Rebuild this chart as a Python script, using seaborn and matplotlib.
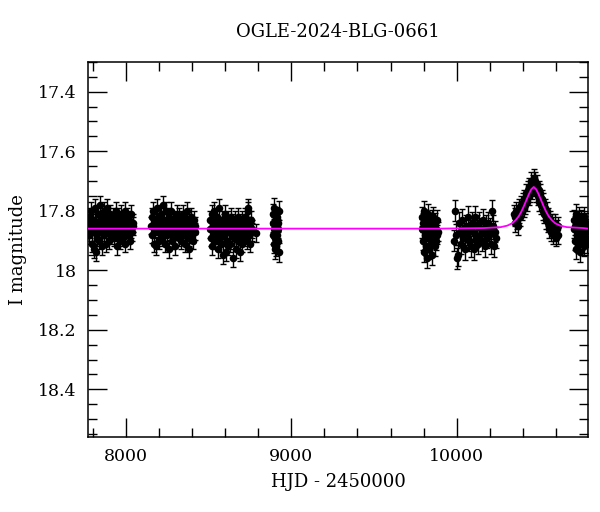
import matplotlib
matplotlib.use("Agg")
import matplotlib.pyplot as plt
import seaborn as sns
import pandas as pd
from matplotlib.ticker import MultipleLocator, FormatStrFormatter

# OGLE-2024-BLG-0661 light curve
s1_t = [7774, 7778, 7782, 7786, 7790, 7794, 7798, 7802, 7806, 7810,
        7814, 7818, 7822, 7826, 7830, 7834, 7838, 7842, 7846, 7850,
        7854, 7858, 7862, 7866, 7870, 7874, 7878, 7882, 7886, 7890,
        7894, 7898, 7902, 7906, 7910, 7914, 7918, 7922, 7926, 7930,
        7934, 7938, 7942, 7946, 7950, 7954, 7958, 7962, 7966, 7970,
        7974, 7978, 7982, 7986, 7990, 7994, 7998, 8002, 8006, 8010,
        8014, 8018, 8022, 8026, 8030, 8034, 8038, 8042, 8046]
s1_m = [17.84, 17.88, 17.82, 17.86, 17.80, 17.91, 17.85, 17.83, 17.93, 17.87,
        17.79, 17.94, 17.84, 17.89, 17.81, 17.86, 17.90, 17.83, 17.78, 17.87,
        17.85, 17.92, 17.82, 17.88, 17.80, 17.86, 17.91, 17.84, 17.79, 17.87,
        17.83, 17.90, 17.85, 17.81, 17.88, 17.84, 17.86, 17.82, 17.85, 17.89,
        17.83, 17.87, 17.80, 17.92, 17.85, 17.82, 17.88, 17.84, 17.90, 17.86,
        17.81, 17.87, 17.83, 17.89, 17.85, 17.80, 17.91, 17.84, 17.86, 17.82,
        17.88, 17.85, 17.83, 17.90, 17.86, 17.81, 17.87, 17.84, 17.85]

s2_t = [8152, 8156, 8160, 8164, 8168, 8172, 8176, 8180, 8184, 8188,
        8192, 8196, 8200, 8204, 8208, 8212, 8216, 8220, 8224, 8228,
        8232, 8236, 8240, 8244, 8248, 8252, 8256, 8260, 8264, 8268,
        8272, 8276, 8280, 8284, 8288, 8292, 8296, 8300, 8304, 8308,
        8312, 8316, 8320, 8324, 8328, 8332, 8336, 8340, 8344, 8348,
        8352, 8356, 8360, 8364, 8368, 8372, 8376, 8380, 8384, 8388,
        8392, 8396, 8400, 8404, 8408, 8412, 8416, 8420]
s2_m = [17.85, 17.82, 17.88, 17.80, 17.91, 17.84, 17.86, 17.92, 17.83, 17.79,
        17.87, 17.85, 17.90, 17.82, 17.86, 17.81, 17.89, 17.84, 17.78, 17.87,
        17.83, 17.91, 17.85, 17.80, 17.88, 17.84, 17.86, 17.93, 17.82, 17.87,
        17.80, 17.85, 17.90, 17.83, 17.88, 17.84, 17.92, 17.86, 17.85, 17.81,
        17.87, 17.84, 17.89, 17.82, 17.86, 17.90, 17.83, 17.85, 17.88, 17.81,
        17.86, 17.84, 17.91, 17.83, 17.87, 17.80, 17.85, 17.89, 17.93, 17.84,
        17.86, 17.82, 17.88, 17.85, 17.90, 17.83, 17.87, 17.85]

s3_t = [8508, 8512, 8516, 8520, 8524, 8528, 8532, 8536, 8540, 8544,
        8548, 8552, 8556, 8560, 8564, 8568, 8572, 8576, 8580, 8584,
        8588, 8592, 8596, 8600, 8604, 8608, 8612, 8616, 8620, 8624,
        8628, 8632, 8636, 8640, 8644, 8648, 8652, 8656, 8660, 8664,
        8668, 8672, 8676, 8680, 8684, 8688, 8692, 8696, 8700, 8704,
        8708, 8712, 8716, 8720, 8724, 8728, 8732, 8736, 8740, 8744,
        8748, 8752, 8756, 8760, 8764, 8785]
s3_m = [17.86, 17.83, 17.89, 17.81, 17.92, 17.85, 17.87, 17.80, 17.90, 17.84,
        17.88, 17.82, 17.93, 17.86, 17.79, 17.89, 17.85, 17.91, 17.83, 17.87,
        17.95, 17.84, 17.88, 17.81, 17.94, 17.86, 17.90, 17.83, 17.92, 17.87,
        17.85, 17.91, 17.82, 17.88, 17.84, 17.96, 17.86, 17.89, 17.83, 17.93,
        17.87, 17.85, 17.90, 17.82, 17.88, 17.94, 17.84, 17.86, 17.91, 17.83,
        17.87, 17.85, 17.89, 17.82, 17.86, 17.84, 17.90, 17.80, 17.79, 17.88,
        17.85, 17.91, 17.83, 17.87, 17.86, 17.875]

s4_t = [8888, 8890, 8892, 8894, 8896, 8898, 8900, 8902, 8904, 8906,
        8908, 8910, 8912, 8914, 8916, 8918, 8920, 8922, 8924, 8926]
s4_m = [17.84, 17.88, 17.81, 17.91, 17.86, 17.79, 17.93, 17.85, 17.89, 17.83,
        17.87, 17.92, 17.85, 17.82, 17.88, 17.90, 17.84, 17.86, 17.94, 17.80]

s5_t = [9788, 9791, 9794, 9797, 9800, 9803, 9806, 9809, 9812, 9815,
        9818, 9821, 9824, 9827, 9830, 9833, 9836, 9839, 9842, 9845,
        9848, 9851, 9854, 9857, 9860, 9863, 9866, 9869, 9872, 9875,
        9878, 9881, 9884]
s5_m = [17.86, 17.82, 17.90, 17.84, 17.94, 17.80, 17.88, 17.85, 17.92, 17.83,
        17.96, 17.87, 17.81, 17.89, 17.85, 17.93, 17.84, 17.88, 17.86, 17.91,
        17.83, 17.95, 17.87, 17.82, 17.89, 17.85, 17.92, 17.84, 17.90, 17.86,
        17.88, 17.83, 17.87]

s6_t = [9985, 9991, 9997, 10003, 10009, 10015, 10021, 10027, 10033, 10039,
        10045, 10051, 10057, 10063, 10069, 10075, 10081, 10087, 10093, 10099,
        10105, 10111, 10117, 10123, 10129, 10135, 10141, 10147, 10153, 10159,
        10165, 10171, 10177, 10183, 10189, 10195, 10201, 10207, 10213, 10219,
        10225, 10231, 10240]
s6_m = [17.90, 17.80, 17.88, 17.96, 17.95, 17.84, 17.87, 17.91, 17.83, 17.89,
        17.86, 17.93, 17.85, 17.88, 17.82, 17.90, 17.86, 17.92, 17.84, 17.87,
        17.93, 17.82, 17.89, 17.85, 17.91, 17.84, 17.88, 17.86, 17.90, 17.83,
        17.87, 17.92, 17.85, 17.89, 17.84, 17.88, 17.86, 17.91, 17.80, 17.85,
        17.92, 17.87, 17.89]

s7_t = [10344, 10349, 10354, 10359, 10364, 10369, 10374, 10379, 10384, 10389,
        10394, 10399, 10404, 10409, 10414, 10419, 10424, 10429, 10434, 10439,
        10444, 10449, 10454, 10459, 10464, 10469, 10474, 10479, 10484, 10489,
        10494, 10499, 10504, 10509, 10514, 10519, 10524, 10529, 10534, 10539,
        10544, 10549, 10554, 10559, 10564, 10569, 10574, 10579, 10584, 10589,
        10594, 10599, 10604, 10609, 10614]
s7_m = [17.81, 17.84, 17.82, 17.80, 17.83, 17.85, 17.81, 17.79, 17.82, 17.78,
        17.80, 17.77, 17.79, 17.76, 17.78, 17.74, 17.77, 17.73, 17.75, 17.72,
        17.74, 17.70, 17.73, 17.71, 17.69, 17.72, 17.70, 17.74, 17.71, 17.75,
        17.73, 17.77, 17.74, 17.78, 17.76, 17.80, 17.77, 17.81, 17.79, 17.83,
        17.80, 17.84, 17.82, 17.86, 17.83, 17.87, 17.84, 17.88, 17.85, 17.87,
        17.84, 17.89, 17.86, 17.88, 17.85]

s8_t = [10708, 10711, 10714, 10717, 10720, 10723, 10726, 10729, 10732, 10735,
        10738, 10741, 10744, 10747, 10750, 10753, 10756, 10759, 10762, 10765,
        10768, 10771, 10774, 10777, 10780, 10783, 10786, 10789]
s8_m = [17.86, 17.83, 17.90, 17.85, 17.93, 17.81, 17.88, 17.84, 17.91, 17.86,
        17.82, 17.89, 17.85, 17.94, 17.87, 17.83, 17.90, 17.84, 17.88, 17.86,
        17.92, 17.82, 17.87, 17.85, 17.89, 17.84, 17.91, 17.86]

season_err = [0.030, 0.029, 0.030, 0.032, 0.032, 0.036, 0.030, 0.032]

model_t = [7772, 9900, 10165, 10265, 10305, 10335, 10355, 10375, 10390, 10405, 10420, 10435, 10450,
           10465, 10480, 10495, 10510, 10525, 10540, 10555, 10575, 10595, 10625, 10665, 10765, 10793]
model_m = [17.860, 17.860, 17.858, 17.855, 17.850, 17.842, 17.832, 17.818, 17.803, 17.785, 17.765,
           17.745, 17.728, 17.720, 17.728, 17.745, 17.765, 17.785, 17.803, 17.818, 17.832, 17.842,
           17.850, 17.855, 17.858, 17.860]

seasons = [(s1_t, s1_m), (s2_t, s2_m), (s3_t, s3_m), (s4_t, s4_m),
           (s5_t, s5_m), (s6_t, s6_m), (s7_t, s7_m), (s8_t, s8_m)]
rows = []
for (t, m), e in zip(seasons, season_err):
    for ti, mi in zip(t, m):
        rows.append((ti, mi, e))
df = pd.DataFrame(rows, columns=["hjd", "mag", "err"])
model = pd.DataFrame({"hjd": model_t, "mag": model_m})

sns.set_style("ticks")
plt.rcParams["font.family"] = ["DejaVu Serif"]
plt.rcParams["text.color"] = "black"
plt.rcParams["axes.labelcolor"] = "black"

fig = plt.figure(figsize=(6, 5.12), dpi=100)
ax = fig.add_axes([0.1467, 0.1465, 0.8333, 0.7325])

ax.errorbar(df["hjd"], df["mag"], yerr=df["err"], fmt="none", ecolor="black",
            elinewidth=1.0, capsize=2.5, capthick=1.0, zorder=2)
sns.scatterplot(data=df, x="hjd", y="mag", color="black", s=30, edgecolor="black",
                linewidth=0, ax=ax, zorder=3)
sns.lineplot(data=model, x="hjd", y="mag", color="#ff00ff", linewidth=1.3, ax=ax, zorder=4)

ax.set_xlim(7772, 10793)
ax.set_ylim(18.56, 17.30)
ax.xaxis.set_major_locator(MultipleLocator(1000))
ax.xaxis.set_minor_locator(MultipleLocator(200))
ax.yaxis.set_major_locator(MultipleLocator(0.2))
ax.yaxis.set_minor_locator(MultipleLocator(0.05))
ax.yaxis.set_major_formatter(FormatStrFormatter("%g"))
ax.tick_params(which="both", direction="in", top=True, right=True, color="black",
               labelcolor="black", width=1.0)
ax.tick_params(which="major", length=13.5, labelsize=12.5, pad=8)
ax.tick_params(which="minor", length=6.5)
for sp in ax.spines.values():
    sp.set_linewidth(1.1)
    sp.set_color("black")

ax.set_xlabel("HJD - 2450000", fontsize=13, labelpad=6, color="black")
ax.set_ylabel("I magnitude", fontsize=13, labelpad=8, color="black")
ax.set_title("OGLE-2024-BLG-0661", fontsize=13, pad=18, color="black")

fig.savefig("out.png", dpi=100)
